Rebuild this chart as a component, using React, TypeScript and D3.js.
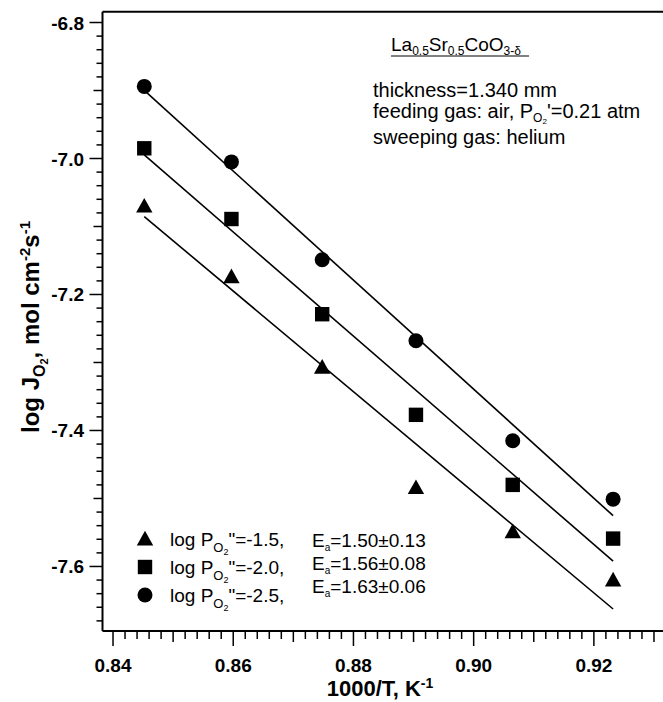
import React from "react";
import * as d3 from "d3";

// ---- data ----
const INV_T = [0.8452, 0.8597, 0.8748, 0.8904, 0.9065, 0.9232];
const LOGJ_M15 = [-7.07, -7.174, -7.307, -7.484, -7.549, -7.62];
const LOGJ_M20 = [-6.985, -7.089, -7.229, -7.377, -7.48, -7.559];
const LOGJ_M25 = [-6.894, -7.005, -7.149, -7.268, -7.415, -7.501];
const SERIES_LOGP = ["-1.5", "-2.0", "-2.5"];
const SERIES_EA = ["1.50\u00b10.13", "1.56\u00b10.08", "1.63\u00b10.06"];
const SERIES_SHAPE = ["triangle", "square", "circle"];
const X_TICKS = [0.84, 0.86, 0.88, 0.9, 0.92];
const Y_TICKS = [-6.8, -7.0, -7.2, -7.4, -7.6];

const W = 663;
const H = 702;
const LEFT = 102.5;
const RIGHT = 663;
const TOP = 11.7;
const BOTTOM = 631;

const FONT = "'Liberation Sans', Arial, Helvetica, sans-serif";

function fit(xs: number[], ys: number[]) {
  const mx = d3.mean(xs)!;
  const my = d3.mean(ys)!;
  let sxy = 0;
  let sxx = 0;
  xs.forEach((x, i) => {
    sxy += (x - mx) * (ys[i] - my);
    sxx += (x - mx) * (x - mx);
  });
  const b = sxy / sxx;
  return (x: number) => my + b * (x - mx);
}

function Marker({ shape, cx, cy }: { shape: string; cx: number; cy: number }) {
  if (shape === "circle") return <circle cx={cx} cy={cy} r={7.5} fill="#000" />;
  if (shape === "square")
    return <rect x={cx - 7.2} y={cy - 7.2} width={14.4} height={14.4} fill="#000" />;
  const s = 8.2;
  return (
    <path
      d={`M${cx},${cy - s} L${cx + s},${cy + s * 0.78} L${cx - s},${cy + s * 0.78} Z`}
      fill="#000"
    />
  );
}

export default function App() {
  const x = d3.scaleLinear().domain([0.83825, 0.9315]).range([LEFT, RIGHT]);
  const y = d3.scaleLinear().domain([-7.6949, -6.7841]).range([BOTTOM, TOP]);

  const series = [LOGJ_M15, LOGJ_M20, LOGJ_M25];

  const xMinor = d3.range(0, 46).map((i) => 0.84 + i * 0.002);
  const yMinor = d3.range(0, 45).map((i) => -6.8 - i * 0.02).filter((v) => v >= -7.6949);

  const line = d3
    .line<[number, number]>()
    .x((d) => x(d[0]))
    .y((d) => y(d[1]));

  const x0 = INV_T[0];
  const x1 = INV_T[INV_T.length - 1];

  const legendY = [539, 567, 595];
  const eaY = [540, 563, 586];

  return (
    <svg
      width={W}
      height={H}
      style={{ position: "absolute", left: 0, top: 0, background: "#fff" }}
      fontFamily={FONT}
    >
      <rect x={0} y={0} width={W} height={H} fill="#fff" />
      {/* frame */}
      <line x1={LEFT} y1={TOP} x2={RIGHT} y2={TOP} stroke="#000" strokeWidth={2} />
      <line x1={LEFT} y1={TOP} x2={LEFT} y2={BOTTOM} stroke="#000" strokeWidth={2} />
      <line x1={LEFT} y1={BOTTOM} x2={RIGHT} y2={BOTTOM} stroke="#000" strokeWidth={2} />

      {/* x ticks */}
      {xMinor.map((v, i) => {
        const k = Math.round(v * 1000);
        const major = k % 20 === 0;
        const mid = !major && k % 10 === 0;
        const len = major ? 15 : mid ? 11 : 8;
        return (
          <line key={"xt" + i} x1={x(v)} x2={x(v)} y1={BOTTOM} y2={BOTTOM + len} stroke="#000" strokeWidth={1.5} />
        );
      })}
      {X_TICKS.map((v) => (
        <text key={"xl" + v} x={x(v)} y={672} textAnchor="middle" fontSize={19} fontWeight="bold">
          {v.toFixed(2)}
        </text>
      ))}

      {/* y ticks */}
      {yMinor.map((v, i) => {
        const k = Math.round(-v * 100);
        const major = k % 20 === 0;
        const mid = !major && k % 10 === 0;
        const len = major ? 13 : mid ? 9 : 6;
        return (
          <line key={"yt" + i} x1={LEFT - len} x2={LEFT} y1={y(v)} y2={y(v)} stroke="#000" strokeWidth={1.5} />
        );
      })}
      {Y_TICKS.map((v) => (
        <text key={"yl" + v} x={84} y={y(v) + 7} textAnchor="end" fontSize={19} fontWeight="bold">
          {v.toFixed(1)}
        </text>
      ))}

      {/* axis titles */}
      <text x={380} y={696} textAnchor="middle" fontSize={22} fontWeight="bold">
        1000/T, K<tspan dy={-8} fontSize={14}>-1</tspan>
      </text>
      <text
        transform={`translate(39, 327) rotate(-90)`}
        textAnchor="middle"
        fontSize={24}
        fontWeight="bold"
      >
        log J<tspan dy={6} fontSize={16}>O</tspan>
        <tspan dy={3} fontSize={11}>2</tspan>
        <tspan dy={-9}>, mol cm</tspan>
        <tspan dy={-9} fontSize={15}>-2</tspan>
        <tspan dy={9}>s</tspan>
        <tspan dy={-9} fontSize={15}>-1</tspan>
      </text>

      {/* fitted lines */}
      {series.map((ys, si) => {
        const f = fit(INV_T, ys);
        return (
          <path
            key={"ln" + si}
            d={line([
              [x0, f(x0)],
              [x1, f(x1)],
            ])!}
            stroke="#000"
            strokeWidth={1.6}
            fill="none"
          />
        );
      })}

      {/* markers */}
      {series.map((ys, si) =>
        ys.map((v, i) => (
          <Marker key={`m${si}-${i}`} shape={SERIES_SHAPE[si]} cx={x(INV_T[i])} cy={y(v)} />
        ))
      )}

      {/* legend */}
      {SERIES_LOGP.map((lp, i) => (
        <g key={"lg" + i}>
          <Marker shape={SERIES_SHAPE[i]} cx={145} cy={legendY[i]} />
          <text x={170} y={legendY[i] + 6.5} fontSize={19}>
            log P<tspan dy={6} fontSize={13}>O</tspan>
            <tspan dy={3} fontSize={9}>2</tspan>
            <tspan dy={-9}>"={lp},</tspan>
          </text>
          <text x={312} y={eaY[i] + 6.5} fontSize={19}>
            E<tspan dy={4} fontSize={10}>a</tspan>
            <tspan dy={-4}>={SERIES_EA[i]}</tspan>
          </text>
        </g>
      ))}

      {/* annotation */}
      <text x={391} y={51} fontSize={19}>
        La<tspan dy={4} fontSize={12}>0.5</tspan>
        <tspan dy={-4}>Sr</tspan>
        <tspan dy={4} fontSize={12}>0.5</tspan>
        <tspan dy={-4}>CoO</tspan>
        <tspan dy={4} fontSize={12}>3-δ</tspan>
      </text>
      <line x1={391} x2={529} y1={56} y2={56} stroke="#000" strokeWidth={1} />
      <text x={373} y={97} fontSize={20}>thickness=1.340 mm</text>
      <text x={373} y={118} fontSize={20}>
        feeding gas: air, P<tspan dy={4} fontSize={12}>O</tspan>
        <tspan dy={2} fontSize={8}>2</tspan>
        <tspan dy={-6}>'=0.21 atm</tspan>
      </text>
      <text x={373} y={144} fontSize={20}>sweeping gas: helium</text>
    </svg>
  );
}
